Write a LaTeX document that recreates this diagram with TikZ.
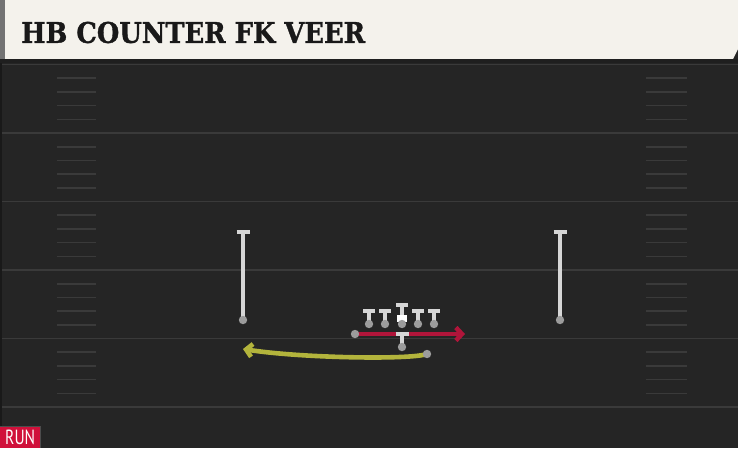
\documentclass[tikz,border=0pt]{standalone}
\usepackage{fontspec}
\newfontfamily\titlefont[FakeBold=1.2]{DejaVu Serif Bold}
\newfontfamily\tagfont{PT Sans}
\usetikzlibrary{arrows.meta}
\definecolor{paper}{HTML}{F4F2EC}
\definecolor{turf}{HTML}{252525}
\definecolor{chalk}{HTML}{3A3A3A}
\definecolor{player}{HTML}{D6D6D6}
\definecolor{footgray}{HTML}{9C9C9C}
\definecolor{block}{HTML}{B0153A}
\definecolor{runpath}{HTML}{B3B43C}
\definecolor{tag}{HTML}{D0103A}
\tikzset{
  yardline/.style={draw=chalk,line width=1.8pt},
  hashmark/.style={draw=chalk,line width=1.6pt},
  stem/.style={draw=player,line width=4.8pt},
  bar/.style={draw=player,line width=4.8pt},
  foot/.style={fill=footgray}
}
\begin{document}
\begin{tikzpicture}[x=1pt,y=-1pt]
	\useasboundingbox (0,0) rectangle (738,448);
	\fill[turf] (0,0) rectangle (738,448);
	% header
	\fill[paper] (0,0)--(738,0)--(738,49)--(733,59)--(0,59)--cycle;
	\fill[black!55] (0,0) rectangle (5,59);
	\fill[black!88] (0,59) rectangle (738,63);
	\node[anchor=west,inner sep=0pt,text=black!90] (title) at (21,32.5) {\titlefont\fontsize{28.5}{30}\selectfont\scalebox{0.905}[1]{HB COUNTER FK VEER}};
	% field
	\foreach \y in {64.5,133,201.5,270,338.5,407}
		\draw[yardline] (0,\y)--(738,\y);
	\foreach \y in {64.5,133,201.5,270,338.5}
		\foreach \k in {1,...,4}{
			\draw[hashmark] (57,\y+13.7*\k)--(96,\y+13.7*\k);
			\draw[hashmark] (646,\y+13.7*\k)--(687,\y+13.7*\k);
		}
	\fill[black!90] (0,63) rectangle (2,448);
	% players
	\coordinate (WL) at (243,320); \coordinate (WLt) at (243,232);
	\coordinate (WR) at (560,320); \coordinate (WRt) at (560,232);
	\coordinate (C) at (402,324); \coordinate (Ct) at (402,305);
	\coordinate (QB) at (402,347); \coordinate (QBt) at (402,334);
	\coordinate (HB) at (427,354); \coordinate (HBe) at (243,349);
	\coordinate (FB) at (355,334); \coordinate (FBe) at (465,334);
	\draw[stem] (WL)--(WLt) (WR)--(WRt);
	\draw[bar] ([xshift=-6.5pt]WLt)--([xshift=6.5pt]WLt) ([xshift=-6.5pt]WRt)--([xshift=6.5pt]WRt);
	\foreach \x/\n in {369/LT,385/LG,418/RG,434/RT}{
		\coordinate (\n) at (\x,324); \coordinate (\n t) at (\x,311);
		\draw[stem] (\n)--(\n t);
		\draw[bar] ([xshift=-6pt]\n t)--([xshift=6pt]\n t);
		\fill[foot] (\n) circle (4.2pt);
	}
	\draw[stem] (C)--(Ct);
	\draw[bar] ([xshift=-6pt]Ct)--([xshift=6pt]Ct);
	\fill[white] (397,314.5) rectangle (407,322);
	\fill[foot] (C) circle (4.2pt);
	\fill[foot] (WL) circle (4.2pt) (WR) circle (4.2pt);
	% block
	\draw[block,line width=4.6pt,-{Straight Barb[length=6pt,width=13pt]}] (FB)--(FBe);
	\fill[foot] (FB) circle (4.2pt);
	\draw[stem] (QB)--(QBt);
	\draw[bar] ([xshift=-6.5pt]QBt)--([xshift=6.5pt]QBt);
	\fill[foot] (QB) circle (4.2pt);
	% run
	\draw[runpath,line width=4.6pt,-{Straight Barb[length=6pt,width=13pt]}] (HB) .. controls (410,360) and (300,358) .. (HBe);
	\fill[foot] (HB) circle (4.2pt);
	\fill[black!70] (0,426) rectangle (41,448);
	\node[fill=tag,text=white,anchor=south west,minimum width=40pt,minimum height=21pt,inner sep=0pt] (run) at (0,448) {\tagfont\fontsize{20.5}{21}\selectfont\scalebox{0.76}[1]{RUN}};
\end{tikzpicture}
\end{document}
